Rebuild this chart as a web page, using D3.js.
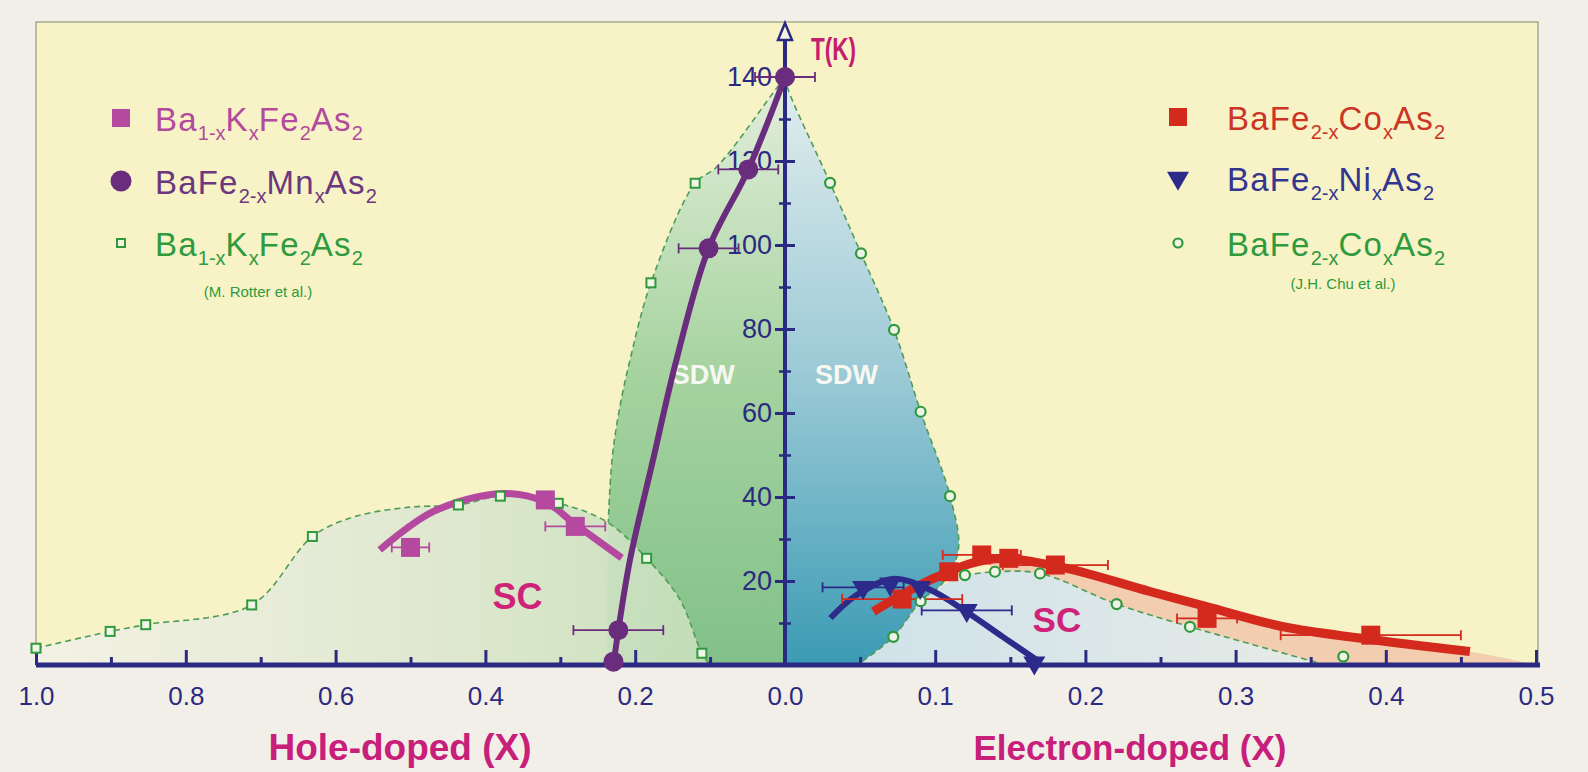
<!DOCTYPE html>
<html>
<head>
<meta charset="utf-8">
<script src="https://cdn.jsdelivr.net/npm/d3@7"></script>
<style>
  html, body { margin: 0; padding: 0; background: #f2efe9; }
  svg { display: block; font-family: "Liberation Sans", Arial, sans-serif; }
</style>
</head>
<body>
<div id="chart"></div>
<script>
// ---- data: [doping x, T (K), x error] ----
// hole-doped side
const kSquares = [[0.50, 28.0, 0.025], [0.32, 39.3, 0], [0.28, 33.0, 0.04]];
const kFit = [[0.541, 27.4], [0.47, 36.5], [0.38, 40.8], [0.32, 38.8], [0.28, 33.5], [0.218, 25.5]];
const mnCircles = [[0.0, 140, 0.04], [0.049, 118, 0.04], [0.102, 99.2, 0.04], [0.2225, 8.3, 0.06], [0.229, 0.8, 0]];
const mnFit = [[0.229, 0], [0.2225, 8.3], [0.207, 25], [0.176, 49], [0.145, 72.6], [0.102, 99.2], [0.049, 118], [0, 140]];
const rotterSquares = [[1.0, 4.0], [0.901, 8.0], [0.8535, 9.6], [0.712, 14.3], [0.631, 30.6], [0.436, 38.1],
  [0.38, 40.2], [0.3027, 38.5], [0.1847, 25.4], [0.111, 2.8], [0.179, 91], [0.12, 114.7]];
const holeScBoundary = [[1.0, 4.0], [0.901, 8.0], [0.8535, 9.6], [0.712, 14.3], [0.631, 30.6], [0.575, 35.3],
  [0.5, 37.6], [0.436, 38.1], [0.38, 40.2], [0.3027, 38.5], [0.238, 34.1], [0.1847, 25.4], [0.14, 15.5],
  [0.111, 2.8], [0.10, 0]];
const holeSdwBoundary = [[0, 140], [0.0156, 136.3], [0.0912, 118.6], [0.12, 114.7], [0.179, 91], [0.207, 72.6],
  [0.222, 60], [0.231, 48.8], [0.236, 34], [0.237, 0]];

// electron-doped side
const coSquares = [[0.078, 15.7, 0.04], [0.109, 22.2, 0], [0.131, 26.2, 0.026], [0.149, 25.4, 0],
  [0.18, 23.8, 0.035], [0.281, 11.1, 0.02], [0.39, 7.1, 0.06]];
const coFit = [[0.0588, 12.7], [0.0965, 20.2], [0.1365, 25.2], [0.18, 23.6], [0.243, 17.5], [0.2808, 13.9],
  [0.3318, 9.1], [0.385, 6.3], [0.456, 3.2]];
const niTriangles = [[0.052, 18.5, 0.027], [0.07, 19.3, 0], [0.09, 18.5, 0], [0.121, 13.0, 0.03], [0.166, 0.5, 0]];
const niFit = [[0.0303, 11.2], [0.047, 16.5], [0.072, 20.5], [0.0965, 17.9], [0.119, 13.1], [0.145, 6.7], [0.1676, 1.2]];
const chuCircles = [[0.03, 114.8], [0.0506, 98], [0.0726, 79.8], [0.0903, 60.3], [0.1099, 40.2], [0.0721, 6.7],
  [0.0903, 15.2], [0.1198, 21.4], [0.1398, 22.2], [0.1698, 21.8], [0.2208, 14.5], [0.2696, 9.1], [0.3717, 2.0]];
const elecSdwBoundary = [[0, 140], [0.0022, 136.9], [0.03, 114.8], [0.0506, 98], [0.0726, 79.8], [0.0903, 60.3],
  [0.1099, 40.2], [0.1154, 27.4], [0.105, 19.5], [0.0903, 15.2], [0.0721, 6.7], [0.048, 0]];
const elecScBoundary = [[0.048, 0], [0.0721, 6.7], [0.0903, 15.2], [0.1198, 21.4], [0.1398, 22.2], [0.1698, 21.8],
  [0.2208, 14.5], [0.2696, 9.1], [0.31, 5.0], [0.36, 0]];
const salmonEnd = [0.5, 0];

// axes
const holeTicks = [1.0, 0.8, 0.6, 0.4, 0.2, 0.0];
const holeMinorTicks = [0.9, 0.7, 0.5, 0.3, 0.1];
const elecTicks = [0.1, 0.2, 0.3, 0.4, 0.5];
const elecMinorTicks = [0.05, 0.15, 0.25, 0.35, 0.45];
const tTicks = [20, 40, 60, 80, 100, 120, 140];
const tMinorTicks = [10, 30, 50, 70, 90, 110, 130];

// legend labels: [text, subscript?]
const legendLeft = [
  { parts: [["Ba", 0], ["1-x", 1], ["K", 0], ["x", 1], ["Fe", 0], ["2", 1], ["As", 0], ["2", 1]], color: "#b24a9e", mark: "kSq" },
  { parts: [["BaFe", 0], ["2-x", 1], ["Mn", 0], ["x", 1], ["As", 0], ["2", 1]], color: "#6c377d", mark: "mn" },
  { parts: [["Ba", 0], ["1-x", 1], ["K", 0], ["x", 1], ["Fe", 0], ["2", 1], ["As", 0], ["2", 1]], color: "#2f9a3e", mark: "rot" }
];
const legendRight = [
  { parts: [["BaFe", 0], ["2-x", 1], ["Co", 0], ["x", 1], ["As", 0], ["2", 1]], color: "#cc3526", mark: "co" },
  { parts: [["BaFe", 0], ["2-x", 1], ["Ni", 0], ["x", 1], ["As", 0], ["2", 1]], color: "#33358f", mark: "ni" },
  { parts: [["BaFe", 0], ["2-x", 1], ["Co", 0], ["x", 1], ["As", 0], ["2", 1]], color: "#2f9a3e", mark: "chu" }
];

// ---- colours ----
const NAVY = "#2b2a82", MAG = "#b5489f", PURP = "#6a2c7c", RED = "#d42a1e", BLUE = "#2c2a8a", GREEN = "#2f9a3d";

const width = 1588, height = 772;
const svg = d3.select("#chart").append("svg").attr("width", width).attr("height", height);

// scales: hole side runs leftwards, electron side rightwards (twice as stretched)
const xh = d3.scaleLinear().domain([0, 1]).range([785, 36]);
const xe = d3.scaleLinear().domain([0, 0.5]).range([785, 1536]);
const y = d3.scaleLinear().domain([0, 140]).range([665, 77]);

const defs = svg.append("defs");
function grad(id, x1, y1, x2, y2, stops) {
  const g = defs.append("linearGradient").attr("id", id).attr("gradientUnits", "userSpaceOnUse")
    .attr("x1", x1).attr("y1", y1).attr("x2", x2).attr("y2", y2);
  stops.forEach(s => g.append("stop").attr("offset", s[0]).attr("stop-color", s[1]));
}
grad("gHoleSc", xh(1), 0, xh(0.1), 0, [[0, "#f3f1e7"], [0.55, "#dfe8d2"], [1, "#c6dfbb"]]);
grad("gHoleSdw", 0, y(140), 0, y(0), [[0, "#e4eedc"], [0.5, "#a6d39f"], [1, "#82c189"]]);
grad("gElecSdw", 0, y(140), 0, y(0), [[0, "#e3eeee"], [0.5, "#9ccad6"], [1, "#3b9bb4"]]);
grad("gElecSc", xe(0.05), 0, xe(0.36), 0, [[0, "#d0e2ea"], [1, "#e6ebe6"]]);

// plot frame
svg.append("rect")
  .attr("x", xh(1)).attr("y", 22)
  .attr("width", xe(0.5) + 2 - xh(1)).attr("height", y(0) - 22)
  .attr("fill", "#f8f3c7").attr("stroke", "#a6ab8e").attr("stroke-width", 1.5);

const curve = d3.curveCatmullRom.alpha(0.5);
function band(pts, sx) {
  const ln = d3.line().x(d => sx(d[0])).y(d => y(d[1])).curve(curve);
  const a = pts[0], b = pts[pts.length - 1];
  return ln(pts) + `L${sx(b[0])},${y(0)}L${sx(a[0])},${y(0)}Z`;
}
function lineOf(sx) {
  return d3.line().x(d => sx(d[0])).y(d => y(d[1])).curve(curve);
}

// filled regions
svg.append("path").attr("d", band(coFit.filter(d => d[0] >= 0.13).concat([salmonEnd]), xe)).attr("fill", "#f2cdb0");
svg.append("path").attr("d", band(elecScBoundary, xe)).attr("fill", "url(#gElecSc)");
svg.append("path").attr("d", band(elecSdwBoundary, xe)).attr("fill", "url(#gElecSdw)");
svg.append("path").attr("d", band(holeSdwBoundary, xh)).attr("fill", "url(#gHoleSdw)");
svg.append("path").attr("d", band(holeScBoundary, xh)).attr("fill", "url(#gHoleSc)").attr("fill-opacity", 0.92);

// dashed phase boundaries
const dash = svg.append("g").attr("fill", "none").attr("stroke", "#4e9c58")
  .attr("stroke-width", 1.6).attr("stroke-dasharray", "6,4");
dash.append("path").attr("d", lineOf(xh)(holeScBoundary));
dash.append("path").attr("d", lineOf(xh)(holeSdwBoundary.slice(0, -1)));
dash.append("path").attr("d", lineOf(xe)(elecSdwBoundary));
dash.append("path").attr("d", lineOf(xe)(elecScBoundary.slice(3)));

// region labels
svg.append("text").attr("x", xh(0.109)).attr("y", y(67)).attr("text-anchor", "middle")
  .style("font-size", "27px").style("font-weight", "bold").attr("fill", "#f7f8f2").text("SDW");
svg.append("text").attr("x", xe(0.041)).attr("y", y(67)).attr("text-anchor", "middle")
  .style("font-size", "27px").style("font-weight", "bold").attr("fill", "#f7f8f2").text("SDW");
svg.append("text").attr("x", xh(0.357)).attr("y", y(13.3)).attr("text-anchor", "middle")
  .style("font-size", "36px").style("font-weight", "bold").attr("fill", "#cf2379").text("SC");
svg.append("text").attr("x", xe(0.181)).attr("y", y(7.8)).attr("text-anchor", "middle")
  .style("font-size", "35px").style("font-weight", "bold").attr("fill", "#cf2379").text("SC");

// ---- axes ----
function styleAxis(g) {
  g.select(".domain").remove();
  g.selectAll(".tick line").attr("stroke", NAVY).attr("stroke-width", 3);
  g.selectAll(".tick text").attr("fill", NAVY).style("font-size", "26px")
    .style("font-family", "'Liberation Sans', Arial, sans-serif");
}
const fmt = d3.format(".1f");
svg.append("g").attr("transform", `translate(0,${y(0)})`)
  .call(d3.axisBottom(xh).tickValues(holeTicks).tickFormat(fmt).tickSizeInner(-15).tickSizeOuter(0).tickPadding(22))
  .call(styleAxis);
svg.append("g").attr("transform", `translate(0,${y(0)})`)
  .call(d3.axisBottom(xh).tickValues(holeMinorTicks).tickFormat("").tickSizeInner(-8).tickSizeOuter(0))
  .call(styleAxis);
svg.append("g").attr("transform", `translate(0,${y(0)})`)
  .call(d3.axisBottom(xe).tickValues(elecTicks).tickFormat(fmt).tickSizeInner(-15).tickSizeOuter(0).tickPadding(22))
  .call(styleAxis);
svg.append("g").attr("transform", `translate(0,${y(0)})`)
  .call(d3.axisBottom(xe).tickValues(elecMinorTicks).tickFormat("").tickSizeInner(-8).tickSizeOuter(0))
  .call(styleAxis);

svg.append("line").attr("x1", xh(1)).attr("x2", xe(0.5) + 4).attr("y1", y(0)).attr("y2", y(0))
  .attr("stroke", NAVY).attr("stroke-width", 5);

// vertical T axis with arrow
svg.append("line").attr("x1", xh(0)).attr("x2", xh(0)).attr("y1", y(0)).attr("y2", 38)
  .attr("stroke", NAVY).attr("stroke-width", 4);
svg.append("path").attr("d", `M${xh(0)},23 L${xh(0) - 7},40 L${xh(0) + 7},40 Z`)
  .attr("fill", "#f4f2e0").attr("stroke", NAVY).attr("stroke-width", 2.5).attr("stroke-linejoin", "miter");

svg.append("g").attr("transform", `translate(${xh(0)},0)`)
  .call(d3.axisLeft(y).tickValues(tTicks).tickFormat(d3.format("d")).tickSizeInner(10).tickSizeOuter(0).tickPadding(3))
  .call(styleAxis).call(g => g.selectAll(".tick text").style("font-size", "27px"));
svg.append("g").attr("transform", `translate(${xh(0)},0)`)
  .call(d3.axisRight(y).tickValues(tTicks).tickFormat("").tickSizeInner(10).tickSizeOuter(0))
  .call(styleAxis);
[d3.axisLeft, d3.axisRight].forEach(ax => {
  svg.append("g").attr("transform", `translate(${xh(0)},0)`)
    .call(ax(y).tickValues(tMinorTicks).tickFormat("").tickSizeInner(6).tickSizeOuter(0))
    .call(styleAxis).call(g => g.selectAll(".tick line").attr("stroke-width", 2.5));
});

svg.append("text").attr("x", xh(0) + 26).attr("y", 60)
  .attr("textLength", 45).attr("lengthAdjust", "spacingAndGlyphs")
  .style("font-size", "31px").style("font-weight", "bold").attr("fill", "#c4206f").text("T(K)");

svg.append("text").attr("x", 400).attr("y", 760).attr("text-anchor", "middle")
  .style("font-size", "37px").style("font-weight", "bold").attr("fill", "#c8207a").text("Hole-doped (X)");
svg.append("text").attr("x", 1130).attr("y", 760).attr("text-anchor", "middle")
  .style("font-size", "35px").style("font-weight", "bold").attr("fill", "#c8207a").text("Electron-doped (X)");

// ---- fits ----
const fits = svg.append("g").attr("fill", "none").attr("stroke-linecap", "butt");
fits.append("path").attr("d", lineOf(xh)(kFit)).attr("stroke", MAG).attr("stroke-width", 7);
fits.append("path").attr("d", lineOf(xh)(mnFit)).attr("stroke", PURP).attr("stroke-width", 6);
fits.append("path").attr("d", lineOf(xe)(niFit)).attr("stroke", BLUE).attr("stroke-width", 6);
fits.append("path").attr("d", lineOf(xe)(coFit)).attr("stroke", RED).attr("stroke-width", 9);

// ---- error bars ----
function errBars(data, sx, color) {
  const g = svg.append("g").attr("stroke", color).attr("stroke-width", 1.8).attr("fill", "none");
  data.filter(d => d[2] > 0).forEach(d => {
    const x1 = sx(d[0] - d[2]), x2 = sx(d[0] + d[2]), yy = y(d[1]);
    g.append("line").attr("x1", x1).attr("x2", x2).attr("y1", yy).attr("y2", yy);
    g.append("line").attr("x1", x1).attr("x2", x1).attr("y1", yy - 5).attr("y2", yy + 5);
    g.append("line").attr("x1", x2).attr("x2", x2).attr("y1", yy - 5).attr("y2", yy + 5);
  });
}
errBars(kSquares, xh, MAG);
errBars(mnCircles, xh, PURP);
errBars(niTriangles, xe, BLUE);
errBars(coSquares, xe, RED);

// ---- markers ----
svg.append("g").selectAll("rect").data(rotterSquares).join("rect")
  .attr("x", d => xh(d[0]) - 4.5).attr("y", d => y(d[1]) - 4.5).attr("width", 9).attr("height", 9)
  .attr("fill", "#f1f5e6").attr("stroke", GREEN).attr("stroke-width", 2);
svg.append("g").selectAll("circle").data(chuCircles).join("circle")
  .attr("cx", d => xe(d[0])).attr("cy", d => y(d[1])).attr("r", 5)
  .attr("fill", "#eef3e6").attr("stroke", GREEN).attr("stroke-width", 2.2);
svg.append("g").selectAll("rect").data(kSquares).join("rect")
  .attr("x", d => xh(d[0]) - 9.5).attr("y", d => y(d[1]) - 9.5).attr("width", 19).attr("height", 19)
  .attr("fill", MAG);
svg.append("g").selectAll("circle").data(mnCircles).join("circle")
  .attr("cx", d => xh(d[0])).attr("cy", d => y(d[1])).attr("r", 10).attr("fill", PURP);
const tri = d3.symbol(d3.symbolTriangle, 210);
svg.append("g").selectAll("path").data(niTriangles).join("path")
  .attr("d", tri).attr("transform", d => `translate(${xe(d[0])},${y(d[1])}) rotate(180)`).attr("fill", BLUE);
svg.append("g").selectAll("rect").data(coSquares).join("rect")
  .attr("x", d => xe(d[0]) - 9.5).attr("y", d => y(d[1]) - 9.5).attr("width", 19).attr("height", 19)
  .attr("fill", RED);

// ---- legends ----
function marker(g, kind, cx, cy) {
  if (kind === "kSq") g.append("rect").attr("x", cx - 9).attr("y", cy - 9).attr("width", 18).attr("height", 18).attr("fill", MAG);
  if (kind === "co") g.append("rect").attr("x", cx - 9).attr("y", cy - 9).attr("width", 18).attr("height", 18).attr("fill", RED);
  if (kind === "mn") g.append("circle").attr("cx", cx).attr("cy", cy).attr("r", 10.5).attr("fill", PURP);
  if (kind === "rot") g.append("rect").attr("x", cx - 4).attr("y", cy - 4).attr("width", 8).attr("height", 8)
    .attr("fill", "#f4f4dc").attr("stroke", GREEN).attr("stroke-width", 2);
  if (kind === "chu") g.append("circle").attr("cx", cx).attr("cy", cy).attr("r", 4.5)
    .attr("fill", "#f4f4dc").attr("stroke", GREEN).attr("stroke-width", 2.2);
  if (kind === "ni") g.append("path").attr("d", tri).attr("transform", `translate(${cx},${cy}) rotate(180)`).attr("fill", BLUE);
}
function formula(g, x, yBase, item) {
  const t = g.append("text").attr("x", x).attr("y", yBase).attr("fill", item.color)
    .style("font-size", "33px");
  let sub = 0;
  item.parts.forEach(([s, isSub]) => {
    const dy = isSub && !sub ? 9 : (!isSub && sub ? -9 : 0);
    t.append("tspan").attr("dy", dy).style("font-size", isSub ? "20px" : "33px")
      .style("letter-spacing", isSub ? "0px" : "1.2px").text(s);
    sub = isSub;
  });
}
const leg = svg.append("g");
const leftRows = [118, 181, 243], rightRows = [117, 178, 243];
legendLeft.forEach((item, i) => {
  marker(leg, item.mark, 121, leftRows[i]);
  formula(leg, 155, leftRows[i] + 13, item);
});
legendRight.forEach((item, i) => {
  marker(leg, item.mark, 1178, rightRows[i]);
  formula(leg, 1227, rightRows[i] + 13, item);
});
leg.append("text").attr("x", 258).attr("y", 297).attr("text-anchor", "middle")
  .style("font-size", "15px").attr("fill", GREEN).text("(M. Rotter et al.)");
leg.append("text").attr("x", 1343).attr("y", 289).attr("text-anchor", "middle")
  .style("font-size", "15px").attr("fill", GREEN).text("(J.H. Chu et al.)");
</script>
</body>
</html>
